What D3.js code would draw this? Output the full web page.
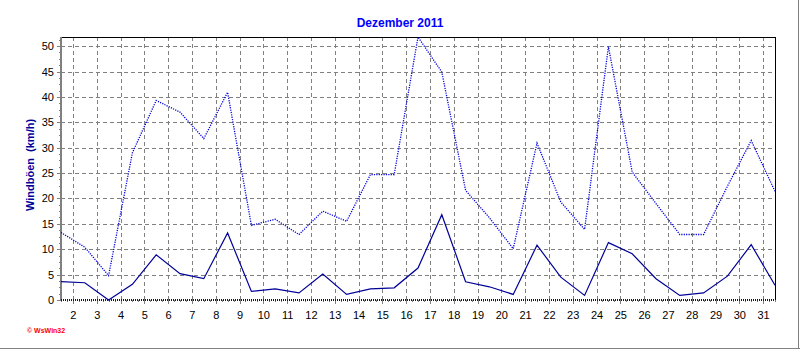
<!DOCTYPE html>
<html>
<head>
<meta charset="utf-8">
<script src="https://cdn.jsdelivr.net/npm/d3@7"></script>
<style>
  html, body { margin: 0; padding: 0; background: #fff; }
  svg { display: block; font-family: "Liberation Sans", Arial, sans-serif; }
</style>
</head>
<body>
<svg id="chart" width="800" height="350"></svg>
<script>
// Daily values for December 2011 (km/h)
const days = [1,2,3,4,5,6,7,8,9,10,11,12,13,14,15,16,17,18,19,20,21,22,23,24,25,26,27,28,29,30,31];
const gusts = [13.3, 10.4, 4.8, 29.0, 39.3, 37.0, 31.8, 40.9, 14.7, 15.9, 12.9, 17.5, 15.5, 24.7, 24.7,
               51.8, 44.9, 21.6, 16.2, 10.1, 30.9, 19.3, 13.9, 49.9, 25.2, 19.0, 12.9, 12.9, 22.4, 31.4, 21.4];
const meanWind = [3.6, 3.4, 0.0, 3.1, 8.9, 5.2, 4.2, 13.2, 1.7, 2.2, 1.4, 5.1, 1.1, 2.2, 2.4,
                  6.3, 16.8, 3.6, 2.6, 1.1, 10.8, 4.5, 0.9, 11.3, 9.1, 4.2, 0.9, 1.4, 4.7, 10.9, 2.9];
const dayLabels = ["2","3","4","5","6","7","8","9","10","11","12","13","14","15","16",
                   "17","18","19","20","21","22","23","24","25","26","27","28","29","30","31"];
const yTicks = [0, 5, 10, 15, 20, 25, 30, 35, 40, 45, 50];

const svg = d3.select("#chart");
const plot = { left: 61, right: 775, top: 37, bottom: 300 };

const x = d3.scaleLinear().domain([1, 31]).range([plot.left, plot.right]);
const y = d3.scaleLinear().domain([0, d3.max(gusts)]).range([plot.bottom, plot.top]);

// outer frame shadow (right and bottom)
svg.append("line").attr("x1", 0).attr("x2", 800).attr("y1", 348.5).attr("y2", 348.5)
  .attr("stroke", "#808080").attr("shape-rendering", "crispEdges");
svg.append("line").attr("x1", 798.5).attr("x2", 798.5).attr("y1", 0).attr("y2", 349)
  .attr("stroke", "#808080").attr("shape-rendering", "crispEdges");

// title
svg.append("text").attr("x", 400).attr("y", 27).attr("text-anchor", "middle")
  .attr("font-size", 12).attr("font-weight", "bold").attr("fill", "#0000ff")
  .text("Dezember 2011");

// y axis title
svg.append("text")
  .attr("transform", "translate(34,165) rotate(-90)")
  .attr("text-anchor", "middle")
  .attr("font-size", 11).attr("font-weight", "bold").attr("fill", "#000099")
  .style("white-space", "pre")
  .text("Windböen  (km/h)");

// grid
const grid = svg.append("g").attr("stroke", "#808080").attr("stroke-dasharray", "4,3")
  .attr("shape-rendering", "crispEdges");
grid.selectAll("line.h").data(yTicks.filter(t => t > 0)).join("line")
  .attr("x1", plot.left).attr("x2", plot.right)
  .attr("y1", d => Math.round(y(d)) + 0.5).attr("y2", d => Math.round(y(d)) + 0.5);
grid.selectAll("line.v").data(dayLabels).join("line")
  .attr("x1", d => Math.round(x(+d - 0.5)) + 0.5).attr("x2", d => Math.round(x(+d - 0.5)) + 0.5)
  .attr("y1", plot.top).attr("y2", plot.bottom);

// plot frame: top and right in black
svg.append("path")
  .attr("d", `M${plot.left},${plot.top + 0.5}H${plot.right + 0.5}V${plot.bottom}`)
  .attr("fill", "none").attr("stroke", "#000").attr("shape-rendering", "crispEdges");

// y axis
const yAxis = svg.append("g").attr("transform", `translate(${plot.left},0)`)
  .call(d3.axisLeft(y).tickValues(yTicks).tickSize(4).tickPadding(3).tickFormat(d3.format("d")));
const yMinor = svg.append("g").attr("transform", `translate(${plot.left},0)`)
  .call(d3.axisLeft(y).tickValues(d3.range(0, 51.8, 1.25)).tickSize(2).tickFormat(""));

// x axis
const xAxis = svg.append("g").attr("transform", `translate(0,${plot.bottom})`)
  .call(d3.axisBottom(x).tickValues(dayLabels.map(d => +d - 0.5)).tickSize(4)
    .tickFormat((d, i) => dayLabels[i]));
const xMinor = svg.append("g").attr("transform", `translate(0,${plot.bottom})`)
  .call(d3.axisBottom(x).tickValues(d3.range(1, 31.01, 0.25)).tickSize(2).tickFormat(""));

[yAxis, yMinor, xAxis, xMinor].forEach(g => {
  g.select(".domain").remove();
  g.selectAll(".tick line").attr("stroke", "#808080").attr("shape-rendering", "crispEdges");
  g.selectAll("text").attr("font-size", 11).attr("fill", "#000")
    .attr("font-family", "'Liberation Sans', Arial, sans-serif");
});
xAxis.selectAll(".tick text").attr("y", 19).attr("dy", null);

// left axis bar
svg.append("line").attr("x1", plot.left).attr("x2", plot.left)
  .attr("y1", plot.top).attr("y2", plot.bottom + 1)
  .attr("stroke", "#808080").attr("stroke-width", 2).attr("shape-rendering", "crispEdges");

// baseline at zero
svg.append("line").attr("x1", plot.left).attr("x2", plot.right)
  .attr("y1", y(0)).attr("y2", y(0))
  .attr("stroke", "#0000cc").attr("stroke-width", 2).attr("stroke-dasharray", "1,1")
  .attr("shape-rendering", "crispEdges");

// series
const line = d3.line().x((d, i) => x(days[i])).y(d => y(d));
svg.append("path").datum(gusts).attr("d", line)
  .attr("fill", "none").attr("stroke", "#0000dd").attr("stroke-width", 1.3)
  .attr("stroke-dasharray", "1.2,1.2");
svg.append("path").datum(meanWind).attr("d", line)
  .attr("fill", "none").attr("stroke", "#000099").attr("stroke-width", 1.2);

// credit
svg.append("text").attr("x", 27).attr("y", 333)
  .attr("font-size", 7).attr("font-weight", "bold").attr("fill", "#ff0000")
  .text("© WsWin32");
</script>
</body>
</html>
